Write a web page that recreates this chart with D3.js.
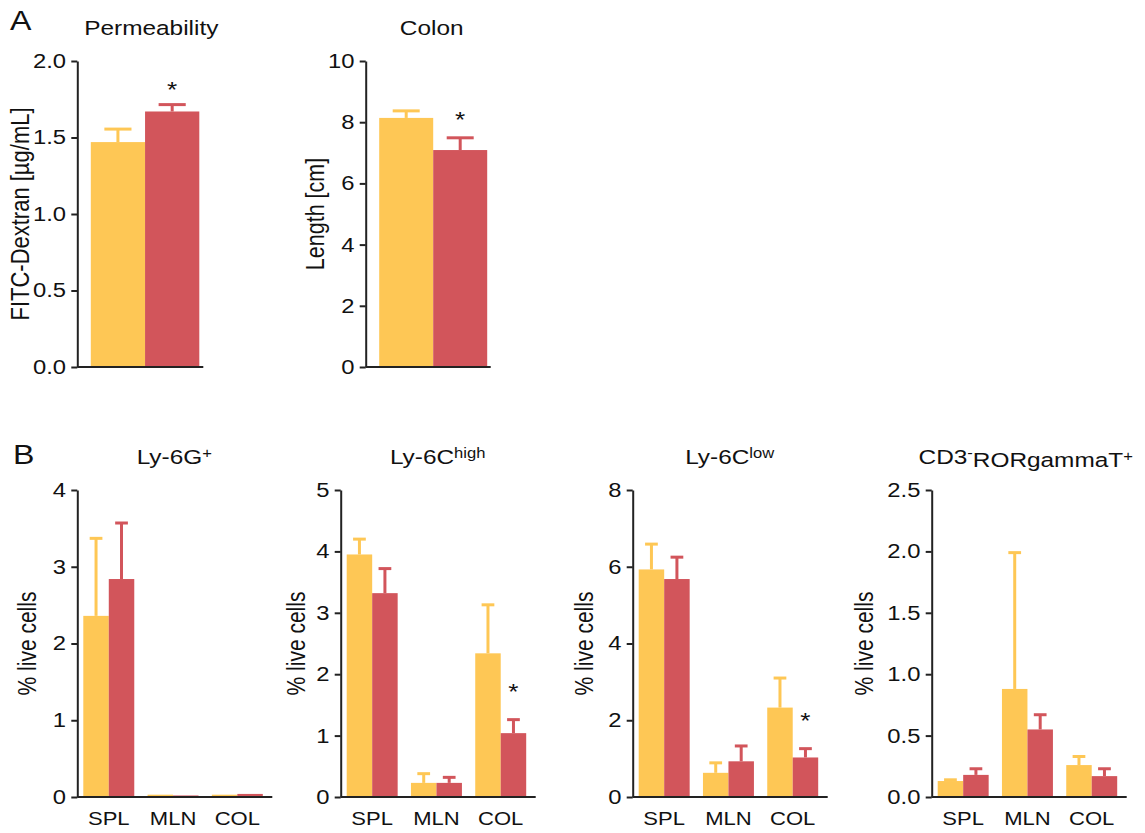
<!DOCTYPE html>
<html>
<head>
<meta charset="utf-8">
<script src="https://cdn.jsdelivr.net/npm/d3@7"></script>
<style>
    body { margin: 0; background: #fff; }
    svg text { font-family: "Liberation Sans", Arial, sans-serif; fill: #111; }
</style>
</head>
<body>
<svg id="fig" width="1145" height="833"></svg>
<script>
// the source figure is stretched sideways, so text gets a horizontal scale
const SX = 1.19;
const YELLOW = "#FEC755";
const RED = "#D2555B";
const INK = "#222";

// ---- panel A ----
const permMean = [1.47, 1.67];
const permErr = [0.085, 0.045];
const permSig = [false, true];
const permTicks = [0, 0.5, 1.0, 1.5, 2.0];

const colonMean = [8.14, 7.09];
const colonErr = [0.23, 0.40];
const colonSig = [false, true];
const colonTicks = [0, 2, 4, 6, 8, 10];

// ---- panel B ----
const tissues = ["SPL", "MLN", "COL"];

const ly6gCtrl = [2.36, 0.03, 0.03];
const ly6gCtrlErr = [1.01, 0, 0];
const ly6gTrt = [2.84, 0.02, 0.04];
const ly6gTrtErr = [0.73, 0, 0];
const ly6gTicks = [0, 1, 2, 3, 4];

const ly6cHighCtrl = [3.95, 0.23, 2.34];
const ly6cHighCtrlErr = [0.25, 0.15, 0.79];
const ly6cHighTrt = [3.32, 0.23, 1.04];
const ly6cHighTrtErr = [0.40, 0.09, 0.22];
const ly6cHighSig = [false, false, true];
const ly6cHighTicks = [0, 1, 2, 3, 4, 5];

const ly6cLowCtrl = [5.93, 0.63, 2.33];
const ly6cLowCtrlErr = [0.66, 0.26, 0.77];
const ly6cLowTrt = [5.68, 0.93, 1.03];
const ly6cLowTrtErr = [0.57, 0.40, 0.23];
const ly6cLowSig = [false, false, true];
const ly6cLowTicks = [0, 2, 4, 6, 8];

const rorCtrl = [0.13, 0.88, 0.26];
const rorCtrlErr = [0.01, 1.11, 0.07];
const rorTrt = [0.18, 0.55, 0.17];
const rorTrtErr = [0.05, 0.12, 0.06];
const rorTicks = [0, 0.5, 1.0, 1.5, 2.0, 2.5];

const svg = d3.select("#fig");

function stretchText(parent, x, y, str, size, anchor) {
    return parent.append("text")
        .attr("transform", `translate(${x},${y}) scale(${SX},1)`)
        .attr("text-anchor", anchor || "start")
        .attr("font-size", size)
        .text(str);
}

// title made of [text, isSuperscript] parts
function titleText(parent, x, y, parts, size) {
    let t = parent.append("text")
        .attr("transform", `translate(${x},${y}) scale(${SX},1)`)
        .attr("text-anchor", "middle")
        .attr("font-size", size);
    let up = false;
    parts.forEach(p => {
        let s = t.append("tspan").text(p[0]);
        if (p[1] && !up) { s.attr("dy", "-0.45em").attr("font-size", size * 0.68); up = true; }
        else if (p[1]) { s.attr("font-size", size * 0.68); }
        else if (up) { s.attr("dy", "0.45em"); up = false; }
    });
}

function drawPanel(o) {
    const g = svg.append("g");

    const y = d3.scaleLinear().domain([0, o.ticks[o.ticks.length - 1]]).range([o.bottom, o.top]);
    const x0 = d3.scaleBand().domain(o.cats).range([o.axisX + o.padL, o.axisX + o.padR])
        .paddingInner(o.padInner).paddingOuter(0);
    const x1 = d3.scaleBand().domain([0, 1]).range([0, x0.bandwidth()]);

    const rows = [];
    o.cats.forEach((c, i) => {
        rows.push({cat: c, s: 0, v: o.ctrl[i], e: o.ctrlErr[i], sig: false, color: YELLOW});
        rows.push({cat: c, s: 1, v: o.trt[i], e: o.trtErr[i], sig: o.sig ? o.sig[i] : false, color: RED});
    });

    g.selectAll("rect.bar")
        .data(rows)
        .join("rect")
        .attr("class", "bar")
        .attr("x", d => x0(d.cat) + x1(d.s))
        .attr("width", x1.bandwidth())
        .attr("y", d => y(d.v))
        .attr("height", d => y(0) - y(d.v))
        .attr("fill", d => d.color);

    const eb = rows.filter(d => d.e > 0);
    const cx = d => x0(d.cat) + x1(d.s) + x1.bandwidth() / 2;
    g.selectAll("line.err")
        .data(eb)
        .join("line")
        .attr("class", "err")
        .attr("x1", cx).attr("x2", cx)
        .attr("y1", d => y(d.v)).attr("y2", d => y(d.v + d.e))
        .attr("stroke", d => d.color)
        .attr("stroke-width", 3);
    g.selectAll("line.cap")
        .data(eb)
        .join("line")
        .attr("class", "cap")
        .attr("x1", d => cx(d) - x1.bandwidth() / 4)
        .attr("x2", d => cx(d) + x1.bandwidth() / 4)
        .attr("y1", d => y(d.v + d.e)).attr("y2", d => y(d.v + d.e))
        .attr("stroke", d => d.color)
        .attr("stroke-width", 3);

    rows.filter(d => d.sig).forEach(d => {
        stretchText(g, cx(d), y(d.v + d.e) - o.starGap, "*", 22, "middle");
    });

    // baseline
    g.append("line")
        .attr("x1", o.axisX).attr("x2", o.axisX + o.baseLen)
        .attr("y1", y(0)).attr("y2", y(0))
        .attr("stroke", INK).attr("stroke-width", 2);

    const ax = g.append("g")
        .attr("transform", `translate(${o.axisX},0)`)
        .call(d3.axisLeft(y).tickValues(o.ticks).tickFormat(o.fmt)
            .tickSize(6).tickSizeOuter(0).tickPadding(3.5));
    ax.attr("font-size", 20).attr("font-family", null);
    ax.select(".domain").attr("stroke", INK).attr("stroke-width", 2);
    ax.selectAll(".tick line").attr("stroke", INK).attr("stroke-width", 2);
    ax.selectAll(".tick text").attr("fill", "#111")
        .attr("transform", `scale(${SX},1)`);

    // y title
    g.append("text")
        .attr("transform", `translate(${o.axisX - o.titleGap},${(o.top + o.bottom) / 2}) scale(${SX},1) rotate(-90)`)
        .attr("text-anchor", "middle")
        .attr("dy", "0.35em")
        .attr("font-size", o.yTitleSize)
        .text(o.yTitle);

    if (o.showCats) {
        o.cats.forEach(c => {
            stretchText(g, x0(c) + x0.bandwidth() / 2, 825, c, 18.5, "middle");
        });
    }

    titleText(g, o.axisX + o.titleX, o.titleY, o.title, 20.5);
}

const f1 = d3.format(".1f");
const f0 = d3.format("d");

// panel A
drawPanel({
    axisX: 77.3, top: 61, bottom: 367, baseLen: 126, padL: 13.5, padR: 122, padInner: 0,
    cats: ["perm"], ctrl: permMean, ctrlErr: permErr, trt: [permMean[1]], trtErr: [permErr[1]],
    sig: [permSig[1]], ticks: permTicks, fmt: f1, starGap: 8,
    yTitle: "FITC-Dextran [µg/mL]", yTitleSize: 22, titleGap: 57, title: [["Permeability"]], titleX: 74, titleY: 35
});
drawPanel({
    axisX: 365.7, top: 61, bottom: 367, baseLen: 125, padL: 13.5, padR: 121.5, padInner: 0,
    cats: ["colon"], ctrl: colonMean, ctrlErr: colonErr, trt: [colonMean[1]], trtErr: [colonErr[1]],
    sig: [colonSig[1]], ticks: colonTicks, fmt: f0, starGap: 11,
    yTitle: "Length [cm]", yTitleSize: 21.5, titleGap: 51, title: [["Colon"]], titleX: 66, titleY: 35
});

// panel B
const bBase = {top: 490, bottom: 797, baseLen: 195, padL: 6, padR: 185.5, padInner: 0.207,
    cats: tissues, showCats: true, starGap: 21, yTitle: "% live cells", yTitleSize: 21,
    titleX: 97, titleY: 464};

drawPanel(Object.assign({}, bBase, {
    axisX: 77.3, ctrl: ly6gCtrl, ctrlErr: ly6gCtrlErr, trt: ly6gTrt, trtErr: ly6gTrtErr,
    ticks: ly6gTicks, fmt: f0, titleGap: 50, title: [["Ly-6G"], ["+", true]]
}));
drawPanel(Object.assign({}, bBase, {
    axisX: 340.7, ctrl: ly6cHighCtrl, ctrlErr: ly6cHighCtrlErr, trt: ly6cHighTrt, trtErr: ly6cHighTrtErr,
    sig: ly6cHighSig, ticks: ly6cHighTicks, fmt: f0, titleGap: 44, title: [["Ly-6C"], ["high", true]]
}));
drawPanel(Object.assign({}, bBase, {
    axisX: 632.7, ctrl: ly6cLowCtrl, ctrlErr: ly6cLowCtrlErr, trt: ly6cLowTrt, trtErr: ly6cLowTrtErr,
    sig: ly6cLowSig, ticks: ly6cLowTicks, fmt: f0, titleGap: 48, title: [["Ly-6C"], ["low", true]]
}));
drawPanel(Object.assign({}, bBase, {
    axisX: 931.7, ctrl: rorCtrl, ctrlErr: rorCtrlErr, trt: rorTrt, trtErr: rorTrtErr,
    ticks: rorTicks, fmt: f1, titleGap: 67, titleX: 94,
    title: [["CD3"], ["-", true], ["RORgammaT"], ["+", true]]
}));

// panel letters
stretchText(svg, 10, 30, "A", 27, "start");
stretchText(svg, 13, 464, "B", 27, "start");
</script>
</body>
</html>
